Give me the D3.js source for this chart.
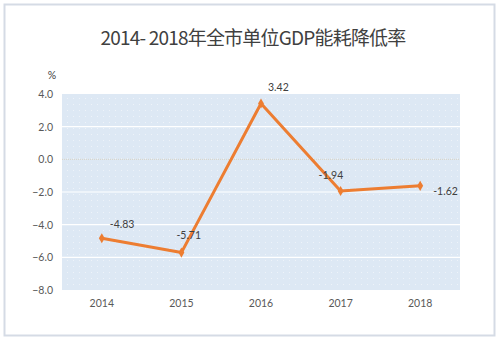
<!DOCTYPE html>
<html><head><meta charset="utf-8">
<script src="https://cdn.jsdelivr.net/npm/d3@7/dist/d3.min.js"></script>
<style>body{margin:0;background:#fff}svg{display:block}</style>
</head><body>
<svg id="c" width="500" height="341"></svg>
<script>
const categories = ["2014","2015","2016","2017","2018"];
const values = [-4.83,-5.71,3.42,-1.94,-1.62];
const labels = ["-4.83","-5.71","3.42","-1.94","-1.62"];
const yTicks = [4,2,0,-2,-4,-6,-8];
const title = "2014- 2018年全市单位GDP能耗降低率";
const unit = "%";

const svg = d3.select("#c");
const L=62,R=460,T=94,B=290;
svg.append("rect").attr("x",4.5).attr("y",4.5).attr("width",490).attr("height",331)
  .attr("fill","#fff").attr("stroke","#d5dbe5").attr("stroke-width",2);

const x = d3.scaleBand().domain(categories).range([L,R]);
const y = d3.scaleLinear().domain([-8,4]).range([B,T]);

const defs = svg.append("defs");
const pat = defs.append("pattern").attr("id","dots").attr("width",6).attr("height",6).attr("patternUnits","userSpaceOnUse");
pat.append("rect").attr("width",6).attr("height",6).attr("fill","#dde8f4");
pat.append("rect").attr("x",1).attr("y",2).attr("width",1).attr("height",1).attr("fill","#eef3f9");
svg.append("rect").attr("x",L).attr("y",T).attr("width",R-L).attr("height",B-T).attr("fill","url(#dots)");

svg.append("g").selectAll("line").data(yTicks.filter(d=>d!==0&&d!==-8&&d!==4)).join("line")
  .attr("x1",L).attr("x2",R).attr("y1",d=>y(d)).attr("y2",d=>y(d))
  .attr("stroke","#fff").attr("stroke-width",1.2);
svg.append("line").attr("x1",L).attr("x2",R).attr("y1",y(0)).attr("y2",y(0))
  .attr("stroke","#d9d3c4").attr("stroke-width",1).attr("stroke-dasharray","1,1");

const yAxis = d3.axisLeft(y).tickValues(yTicks).tickFormat(d3.format(".1f")).tickSize(0).tickPadding(9);
const gy = svg.append("g").attr("transform",`translate(${L},0)`).call(yAxis);
gy.select(".domain").remove();
gy.selectAll("text").attr("font-family","Lato, 'Liberation Sans', sans-serif").attr("font-size",10.5).attr("fill","#595959");

const xAxis = d3.axisBottom(x).tickSize(0).tickPadding(10);
const gx = svg.append("g").attr("transform",`translate(0,${B})`).call(xAxis);
gx.select(".domain").remove();
gx.selectAll("text").attr("font-family","Lato, 'Liberation Sans', sans-serif").attr("font-size",10.5).attr("fill","#595959");

const cx = d=>x(d)+x.bandwidth()/2;
const pts = categories.map((c,i)=>[cx(c),y(values[i])]);
svg.append("path").attr("d",d3.line()(pts)).attr("fill","none")
  .attr("stroke","#ED7D31").attr("stroke-width",3).attr("stroke-linejoin","round");
svg.append("g").selectAll("path").data(pts).join("path")
  .attr("transform",d=>`translate(${d[0]},${d[1]})`)
  .attr("d",d3.symbol(d3.symbolDiamond,30)).attr("fill","#ED7D31");

const off = [[8,-10],[-5,-14],[7,-12],[-22,-12],[13,9]];
svg.append("g").selectAll("text").data(pts).join("text")
  .attr("x",(d,i)=>d[0]+off[i][0]).attr("y",(d,i)=>d[1]+off[i][1])
  .text((d,i)=>labels[i])
  .attr("font-family","Lato, 'Liberation Sans', sans-serif").attr("font-size",10.5).attr("fill","#404040");

svg.append("text").attr("x",52).attr("y",79).attr("text-anchor","middle").text(unit)
  .attr("font-family","Lato, 'Liberation Sans', sans-serif").attr("font-size",10.5).attr("fill","#404040");

svg.append("text").attr("x",253).attr("y",45).attr("text-anchor","middle").text(title)
  .attr("font-family","'Noto Sans CJK SC', sans-serif").attr("font-size",19).attr("fill","#404040")
  .attr("letter-spacing",-0.8);
</script>
</body></html>
